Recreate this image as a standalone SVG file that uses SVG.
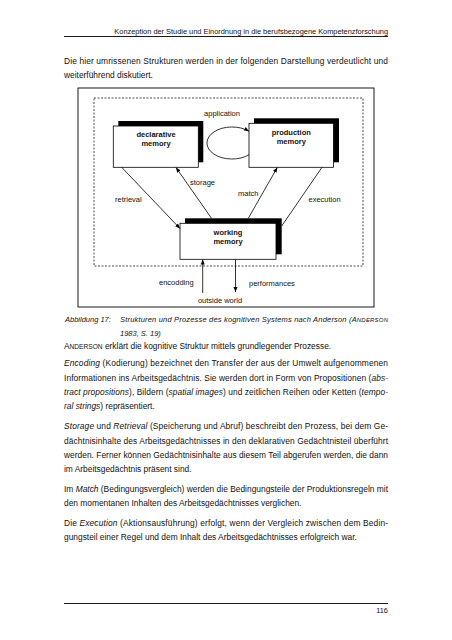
<svg xmlns="http://www.w3.org/2000/svg" width="452" height="640" viewBox="0 0 452 640">
<defs>
<marker id="ah" viewBox="0 0 10 10" refX="10" refY="5" markerWidth="5" markerHeight="5" orient="auto" markerUnits="userSpaceOnUse">
<path d="M0,1 L10,5 L0,9 Z" fill="#000"/>
</marker>
<style>
text{font-family:"Liberation Sans",Arial,sans-serif;fill:#111}
.hd{font-size:7.4px}
.b{font-size:8.4px}
.cap{font-size:7.5px;font-style:italic}
.i{font-style:italic}
.lbl{font-size:7.5px}
.nl{font-size:7.5px;font-weight:bold;text-anchor:middle}
.box{fill:#fff;stroke:#000;stroke-width:0.8}
.sh{fill:#000}
.ln{stroke:#000;stroke-width:0.8;fill:none}
.sc{font-size:6px}
</style>
</defs>
<rect width="452" height="640" fill="#fff"/>

<text class="hd" x="388" y="34" text-anchor="end">Konzeption der Studie und Einordnung in die berufsbezogene Kompetenzforschung</text>
<line x1="64" y1="36.5" x2="388" y2="36.5" stroke="#000" stroke-width="0.9"/>

<text class="b" x="64" y="64" textLength="324">Die hier umrissenen Strukturen werden in der folgenden Darstellung verdeutlicht und</text>
<text class="b" x="64" y="78">weiterführend diskutiert.</text>

<rect x="78" y="88" width="296" height="219" fill="none" stroke="#000" stroke-width="0.9"/>
<rect x="94" y="98" width="269" height="168" fill="none" stroke="#000" stroke-width="0.7" stroke-dasharray="2,1.5"/>

<g id="declarative">
<rect class="sh" x="118.3" y="121" width="85" height="41.3"/>
<rect class="box" x="113.3" y="126" width="85" height="41.3"/>
<text class="nl" x="156" y="137">declarative</text>
<text class="nl" x="156" y="146">memory</text>
</g>
<g id="production">
<rect class="sh" x="254" y="118.3" width="85" height="44"/>
<rect class="box" x="249" y="123.3" width="84.5" height="44"/>
<text class="nl" x="291.3" y="135">production</text>
<text class="nl" x="291.3" y="144">memory</text>
</g>
<g id="working">
<rect class="sh" x="185" y="218.3" width="96.7" height="36"/>
<rect class="box" x="180" y="223.3" width="96" height="36"/>
<text class="nl" x="228" y="235">working</text>
<text class="nl" x="228" y="244">memory</text>
</g>

<g id="connectors">
<path class="ln" d="M249,154.7 A25,16 0 1 1 249,131.3" marker-end="url(#ah)"/>
<line class="ln" x1="121.7" y1="167.3" x2="180" y2="228.5" marker-end="url(#ah)"/>
<line class="ln" x1="211.5" y1="218.3" x2="176" y2="167.5" marker-end="url(#ah)"/>
<line class="ln" x1="248.3" y1="218.3" x2="277.3" y2="167.5" marker-end="url(#ah)"/>
<line class="ln" x1="322" y1="167.3" x2="281.7" y2="226"/>
<line class="ln" x1="202.7" y1="293" x2="202.7" y2="259.5" marker-end="url(#ah)"/>
<line class="ln" x1="235.5" y1="259.5" x2="235.5" y2="292" marker-end="url(#ah)"/>
</g>

<g id="labels">
<text class="lbl" x="222" y="115.5" text-anchor="middle">application</text>
<text class="lbl" x="190" y="185">storage</text>
<text class="lbl" x="115" y="202">retrieval</text>
<text class="lbl" x="238" y="196">match</text>
<text class="lbl" x="308.5" y="202">execution</text>
<text class="lbl" x="159" y="285">encodding</text>
<text class="lbl" x="249" y="286">performances</text>
<text class="lbl" x="220" y="302.5" text-anchor="middle">outside world</text>
</g>

<text class="cap" x="65" y="322">Abbildung 17:</text>
<text class="cap" x="120" y="322" textLength="268">Strukturen und Prozesse des kognitiven Systems nach Anderson (A<tspan class="sc">NDERSON</tspan></text>
<text class="cap" x="120" y="336">1983, S. 19)</text>

<text class="b" x="64" y="349">A<tspan font-size="6.6px">NDERSON</tspan> erklärt die kognitive Struktur mittels grundlegender Prozesse.</text>

<text class="b" x="64" y="366" textLength="324"><tspan class="i">Encoding</tspan> (Kodierung) bezeichnet den Transfer der aus der Umwelt aufgenommenen</text>
<text class="b" x="64" y="380.5" textLength="324">Informationen ins Arbeitsgedächtnis. Sie werden dort in Form von Propositionen (<tspan class="i">abs-</tspan></text>
<text class="b" x="64" y="395" textLength="324"><tspan class="i">tract propositions</tspan>), Bildern (<tspan class="i">spatial images</tspan>) und zeitlichen Reihen oder Ketten (<tspan class="i">tempo-</tspan></text>
<text class="b" x="64" y="409"><tspan class="i">ral strings</tspan>) repräsentiert.</text>

<text class="b" x="64" y="429" textLength="324"><tspan class="i">Storage</tspan> und <tspan class="i">Retrieval</tspan> (Speicherung und Abruf) beschreibt den Prozess, bei dem Ge-</text>
<text class="b" x="64" y="443.5" textLength="324">dächtnisinhalte des Arbeitsgedächtnisses in den deklarativen Gedächtnisteil überführt</text>
<text class="b" x="64" y="458" textLength="324">werden. Ferner können Gedächtnisinhalte aus diesem Teil abgerufen werden, die dann</text>
<text class="b" x="64" y="472">im Arbeitsgedächtnis präsent sind.</text>

<text class="b" x="64" y="492" textLength="324">Im <tspan class="i">Match</tspan> (Bedingungsvergleich) werden die Bedingungsteile der Produktionsregeln mit</text>
<text class="b" x="64" y="506">den momentanen Inhalten des Arbeitsgedächtnisses verglichen.</text>

<text class="b" x="64" y="526" textLength="324">Die <tspan class="i">Execution</tspan> (Aktionsausführung) erfolgt, wenn der Vergleich zwischen dem Bedin-</text>
<text class="b" x="64" y="540">gungsteil einer Regel und dem Inhalt des Arbeitsgedächtnisses erfolgreich war.</text>

<line x1="64" y1="603.5" x2="388" y2="603.5" stroke="#000" stroke-width="0.9"/>
<text class="hd" x="388" y="613" text-anchor="end">116</text>
</svg>
